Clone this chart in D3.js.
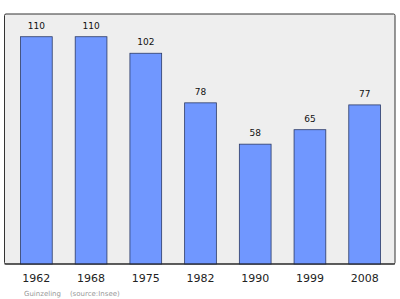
<!DOCTYPE html>
<html>
<head>
<meta charset="utf-8">
<script src="https://cdn.jsdelivr.net/npm/d3@7"></script>
<style>
  body { margin: 0; background: #fff; }
  svg { display: block; }
</style>
</head>
<body>
<div id="chart"></div>
<script>
// population by census year
const years = ['1962', '1968', '1975', '1982', '1990', '1999', '2008'];
const population = [110, 110, 102, 78, 58, 65, 77];
const yMax = 121;

const width = 400, height = 299;
const frame = { left: 4.5, top: 14, right: 395, bottom: 264 };

const svg = d3.select('#chart')
    .append('svg')
    .attr('width', width)
    .attr('height', height);

const x = d3.scaleBand()
    .domain(years)
    .range([9, 392])
    .paddingInner(0.42)
    .paddingOuter(0.21);

const y = d3.scaleLinear()
    .domain([0, yMax])
    .range([frame.bottom, frame.top]);

// plot background
svg.append('rect')
    .attr('x', frame.left)
    .attr('y', frame.top)
    .attr('width', frame.right - frame.left)
    .attr('height', frame.bottom - frame.top)
    .attr('rx', 1.5)
    .attr('fill', '#eeeeee')
    .attr('stroke', '#333')
    .attr('stroke-width', 1);

const data = years.map((yr, i) => ({ year: yr, value: population[i] }));

svg.selectAll('.bar')
    .data(data)
    .enter()
    .append('rect')
    .attr('class', 'bar')
    .attr('x', d => x(d.year))
    .attr('y', d => y(d.value))
    .attr('width', x.bandwidth())
    .attr('height', d => y(0) - y(d.value))
    .attr('fill', '#7097ff')
    .attr('stroke', '#2b3a66')
    .attr('stroke-width', 0.8);

svg.selectAll('.val')
    .data(data)
    .enter()
    .append('text')
    .attr('class', 'val')
    .attr('x', d => x(d.year) + x.bandwidth() / 2)
    .attr('y', d => y(d.value) - 8)
    .attr('text-anchor', 'middle')
    .attr('font-family', 'DejaVu Sans, sans-serif')
    .attr('font-size', 9)
    .attr('fill', '#111')
    .text(d => d.value);

// baseline
svg.append('line')
    .attr('x1', frame.left)
    .attr('x2', frame.right)
    .attr('y1', frame.bottom)
    .attr('y2', frame.bottom)
    .attr('stroke', '#222')
    .attr('stroke-width', 1.2);

const xAxis = d3.axisBottom(x).tickSize(0).tickPadding(10);
svg.append('g')
    .attr('transform', `translate(0,${frame.bottom})`)
    .call(xAxis)
    .call(g => g.select('.domain').remove())
    .selectAll('text')
    .attr('font-family', 'DejaVu Sans, sans-serif')
    .attr('font-size', 11)
    .attr('fill', '#222');

svg.append('text')
    .attr('x', 24)
    .attr('y', 295.5)
    .attr('font-family', 'DejaVu Sans, sans-serif')
    .attr('font-size', 7)
    .attr('fill', '#999')
    .attr('xml:space', 'preserve')
    .text('Guinzeling    (source:Insee)');
</script>
</body>
</html>
